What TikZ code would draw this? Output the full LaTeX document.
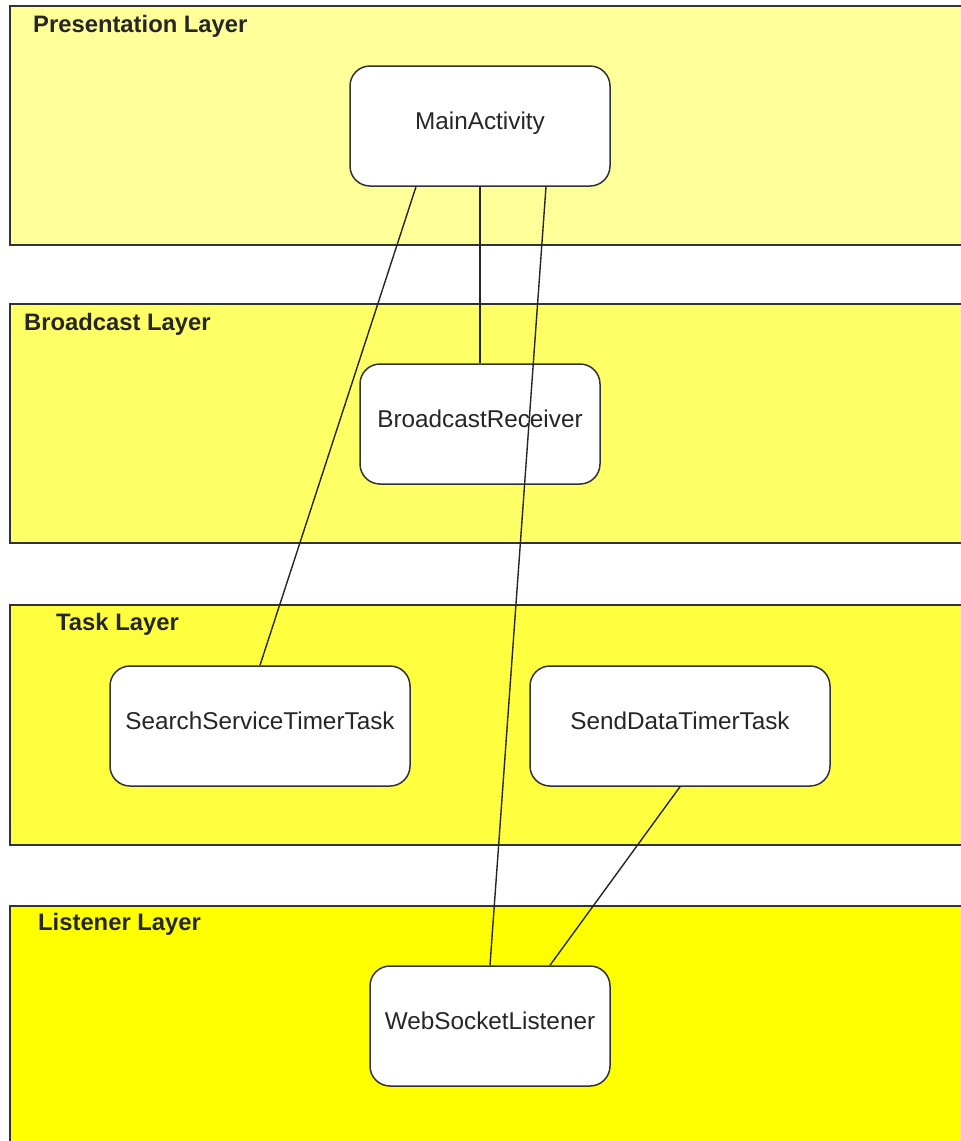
\documentclass[tikz,border=0pt]{standalone}
\usepackage{fontspec}
\setmainfont{Liberation Sans}
\definecolor{presfill}{HTML}{FFFF99}
\definecolor{bcastfill}{HTML}{FFFF66}
\definecolor{taskfill}{HTML}{FFFF40}
\definecolor{listfill}{HTML}{FFFF00}
\definecolor{edge}{HTML}{333333}
\begin{document}
\begin{tikzpicture}[x=1pt,y=-1pt,
  band/.style={line width=1.6pt,draw=edge},
  layerlabel/.style={anchor=base west,inner sep=0pt,font=\fontsize{23.8}{28}\selectfont\bfseries,text=black!85},
  comp/.style={draw=edge,line width=1.5pt,fill=white,rounded corners=20pt,inner sep=0pt,
    text height=63pt,text depth=57pt,align=center,font=\fontsize{24.3}{28}\selectfont,text=black!85},
  link/.style={line width=1.4pt,draw=black!85}]
\useasboundingbox (0,0) rectangle (961,1141);
\clip (0,0) rectangle (961,1141);

% layer bands, open on the right
\fill[presfill] (10,6) rectangle (980,245);
\draw[band] (980,6) -- (10,6) -- (10,245) -- (980,245);
\fill[bcastfill] (10,304) rectangle (980,543);
\draw[band] (980,304) -- (10,304) -- (10,543) -- (980,543);
\fill[taskfill] (10,605) rectangle (980,845);
\draw[band] (980,605) -- (10,605) -- (10,845) -- (980,845);
\fill[listfill] (10,906) rectangle (980,1160);
\draw[band] (980,906) -- (10,906) -- (10,1160);

\node[layerlabel] (lpres) at (33,32) {Presentation Layer};
\node[layerlabel] (lbcast) at (24,330) {Broadcast Layer};
\node[layerlabel] (ltask) at (56,630) {Task Layer};
\node[layerlabel] (llist) at (38,930) {Listener Layer};

% components
\node[comp,text width=260pt] (ma) at (480,126) {MainActivity};
\node[comp,text width=240pt] (br) at (480,424) {BroadcastReceiver};
\node[comp,text width=300pt] (sst) at (260,726) {SearchServiceTimerTask};
\node[comp,text width=300pt] (sdt) at (680,726) {SendDataTimerTask};
\node[comp,text width=240pt] (wsl) at (490,1026) {WebSocketListener};

% connections
\draw[link] ([xshift=-64pt]ma.south) -- (sst.north);
\draw[link] (ma.south) -- (br.north);
\draw[link] ([xshift=66pt]ma.south) -- (wsl.north);
\draw[link] (sdt.south) -- ([xshift=60pt]wsl.north);
\end{tikzpicture}
\end{document}
